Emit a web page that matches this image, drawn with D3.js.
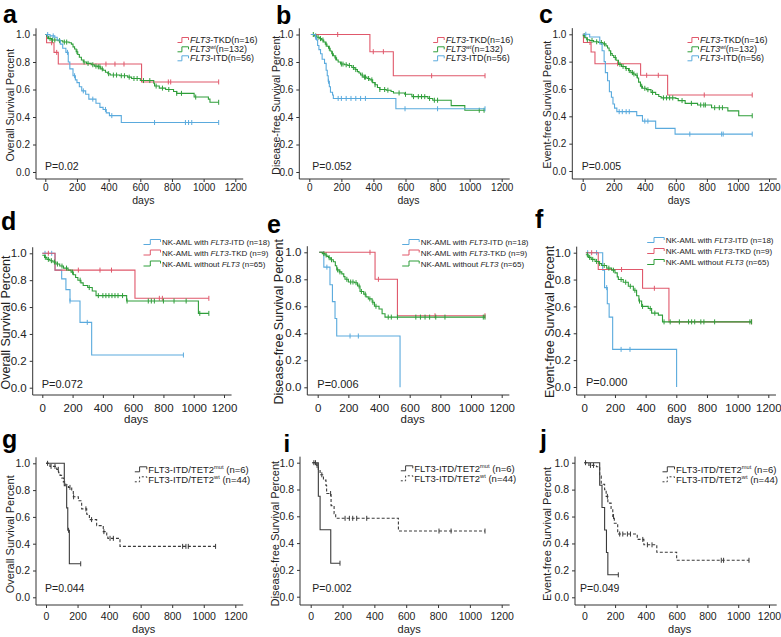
<!DOCTYPE html>
<html><head><meta charset="utf-8">
<script src="https://cdn.jsdelivr.net/npm/d3@7"></script>
<style>body{margin:0;background:#fff}svg{display:block;font-family:"Liberation Sans",Arial,sans-serif}</style>
</head><body><svg id="c" width="781" height="637"></svg>
<script>
// ---------- tick labels ----------
const xTicks = [0, 200, 400, 600, 800, 1000, 1200];
const yTicks = [0, 0.2, 0.4, 0.6, 0.8, 1.0];
const yTitles = ["Overall Survival Percent", "Disease-free Survival Percent", "Event-free Survival Percent"];
const pValues = ["P=0.02", "P=0.052", "P=0.005", "P=0.072", "P=0.006", "P=0.000", "P=0.044", "P=0.002", "P=0.049"];

// ---------- panel a (OS, FLT3 groups) ----------
const aTKD = [[0,1],[8,0.94],[55,0.87],[82,0.785],[608,0.655],[1095,0.655]];
const aTKDc = [40,72,383,440,497,777,792,1095];
const aWT = [[0,1],[10,0.985],[20,0.97],[40,0.96],[80,0.955],[110,0.945],[150,0.94],[165,0.93],[175,0.91],[185,0.895],[195,0.875],[205,0.855],[215,0.835],[228,0.815],[240,0.8],[260,0.79],[290,0.78],[310,0.77],[330,0.765],[350,0.75],[365,0.74],[380,0.725],[395,0.715],[410,0.705],[470,0.7],[520,0.69],[545,0.68],[600,0.665],[685,0.645],[690,0.625],[720,0.61],[760,0.6],[810,0.585],[830,0.572],[940,0.545],[1030,0.53],[1040,0.507],[1095,0.507]];
const aWTc = [15,30,45,60,90,120,135,200,245,270,300,320,335,345,360,400,430,450,480,500,530,560,580,620,660,700,740,780,830,860,950,1095];
const aITD = [[0,1],[30,0.99],[60,0.98],[75,0.96],[95,0.93],[110,0.9],[130,0.87],[145,0.8],[155,0.75],[175,0.7],[190,0.67],[200,0.65],[215,0.62],[230,0.59],[255,0.565],[275,0.53],[320,0.5],[345,0.47],[365,0.455],[385,0.43],[405,0.41],[480,0.36],[1095,0.36]];
const aITDc = [15,50,140,185,240,300,380,420,690,885,905,925,1095];

// ---------- panel b (DFS, FLT3 groups) ----------
const bTKD = [[10,1],[378,0.875],[524,0.7],[1096,0.7]];
const bTKDc = [177,399,462,763,1096];
const bWT = [[10,1],[30,0.99],[46,0.98],[65,0.97],[77,0.96],[90,0.945],[100,0.93],[110,0.915],[120,0.9],[130,0.88],[140,0.86],[150,0.845],[160,0.83],[170,0.815],[180,0.8],[195,0.785],[220,0.78],[240,0.775],[265,0.76],[285,0.745],[300,0.73],[310,0.72],[320,0.705],[335,0.69],[360,0.68],[378,0.67],[395,0.65],[410,0.635],[425,0.615],[440,0.6],[480,0.595],[510,0.585],[525,0.575],[595,0.565],[640,0.548],[740,0.535],[770,0.522],[885,0.483],[970,0.449],[1096,0.449]];
const bWTc = [25,40,55,70,85,105,125,145,165,200,210,230,250,275,290,330,345,350,370,390,410,440,470,490,560,600,650,680,700,720,750,780,800,1060,1090];
const bITD = [[10,1],[38,0.98],[45,0.96],[52,0.92],[60,0.89],[70,0.86],[80,0.82],[95,0.79],[105,0.74],[112,0.7],[118,0.66],[125,0.62],[132,0.58],[145,0.56],[150,0.535],[540,0.46],[1096,0.46]];
const bITDc = [40,120,180,200,230,260,290,320,350,597,800,1096];

// ---------- panel c (EFS, FLT3 groups) ----------
const cTKD = [[0,1],[5,0.94],[54,0.87],[79,0.785],[373,0.7],[547,0.556],[1092,0.556]];
const cTKDc = [47,225,412,487,783,1092];
const cWT = [[0,0.99],[15,0.975],[26,0.96],[45,0.955],[70,0.945],[101,0.94],[130,0.93],[150,0.915],[160,0.9],[170,0.88],[180,0.86],[190,0.845],[200,0.83],[215,0.81],[230,0.78],[250,0.765],[275,0.75],[295,0.735],[310,0.72],[325,0.71],[340,0.7],[352,0.68],[360,0.65],[372,0.62],[385,0.605],[410,0.595],[440,0.575],[470,0.56],[490,0.545],[505,0.535],[600,0.53],[615,0.515],[660,0.495],[740,0.483],[830,0.463],[935,0.44],[1005,0.404],[1092,0.404]];
const cWTc = [10,30,60,90,120,140,180,210,240,260,280,300,320,330,350,380,400,420,450,520,540,560,580,640,700,760,780,790,850,880,900,1092];
const cITD = [[0,1],[45,0.98],[110,0.93],[125,0.88],[138,0.8],[146,0.72],[160,0.66],[172,0.58],[185,0.54],[195,0.49],[205,0.46],[220,0.434],[348,0.405],[385,0.365],[470,0.312],[595,0.27],[1092,0.27]];
const cITDc = [20,235,255,280,300,400,420,690,895,905,1092];

// ---------- panel d (OS, NK-AML) ----------
const dITD = [[0,1],[84,0.875],[128,0.81],[156,0.73],[183,0.645],[249,0.486],[326,0.243],[932,0.243]];
const dITDc = [18,62,183,297,932];
const dTKD = [[0,1],[84,0.875],[612,0.665],[1100,0.665]];
const dTKDc = [40,238,381,457,773,793,1100];
const dWT = [[0,0.985],[15,0.97],[30,0.955],[50,0.945],[70,0.935],[90,0.92],[115,0.905],[140,0.89],[170,0.875],[190,0.86],[205,0.84],[220,0.82],[235,0.8],[255,0.78],[270,0.76],[300,0.745],[330,0.72],[355,0.685],[557,0.645],[1031,0.553],[1100,0.553]];
const dWTc = [20,40,60,80,100,130,160,200,250,310,370,400,420,440,460,480,500,530,560,700,720,740,800,870,950,1040,1100];

// ---------- panel e (DFS, NK-AML) ----------
const eITD = [[10,1],[40,0.89],[80,0.76],[96,0.635],[113,0.51],[124,0.38],[537,0]];
const eITDc = [60,211,265];
const eTKD = [[10,1],[374,0.8],[520,0.53],[1091,0.53]];
const eTKDc = [341,396,765,1091];
const eWT = [[10,1],[30,0.99],[48,0.98],[60,0.97],[70,0.96],[85,0.945],[102,0.93],[115,0.9],[124,0.87],[140,0.855],[157,0.84],[170,0.82],[178,0.8],[200,0.78],[240,0.775],[260,0.75],[276,0.71],[300,0.69],[315,0.67],[330,0.655],[355,0.63],[370,0.6],[400,0.58],[420,0.545],[439,0.52],[1091,0.52]];
const eWTc = [40,55,75,90,130,145,190,215,230,250,270,285,310,340,360,380,460,480,520,640,670,700,730,770,830,1080,1091];

// ---------- panel f (EFS, NK-AML) ----------
const fITD = [[10,1],[120,0.87],[132,0.74],[150,0.62],[162,0.52],[185,0.28],[602,0]];
const fITDc = [22,80,146,240,298];
const fTKD = [[10,1],[91,0.875],[380,0.735],[552,0.485],[1091,0.485]];
const fTKDc = [48,243,457,1091];
const fWT = [[10,0.985],[26,0.965],[45,0.95],[70,0.935],[95,0.92],[113,0.905],[146,0.885],[178,0.87],[200,0.85],[215,0.82],[222,0.8],[254,0.78],[287,0.75],[320,0.72],[341,0.68],[356,0.64],[374,0.6],[417,0.585],[439,0.55],[483,0.535],[510,0.485],[1091,0.485]];
const fWTc = [20,35,55,80,100,130,160,190,240,270,300,330,360,380,430,460,520,560,620,680,700,720,760,780,850,1080,1091];

// ---------- panel g (OS, FLT3-ITD/TET2) ----------
const gMUT = [[0,1],[116,0.833],[131,0.667],[138,0.5],[148,0.25],[220,0.25]];
const gMUTc = [143,220];
const gWT = [[0,1],[25,0.977],[68,0.955],[80,0.93],[89,0.91],[99,0.89],[110,0.86],[125,0.84],[142,0.82],[163,0.795],[173,0.75],[205,0.72],[226,0.66],[258,0.62],[275,0.58],[321,0.535],[363,0.49],[385,0.46],[392,0.44],[469,0.38],[1075,0.38]];
const gWTc = [10,32,57,78,152,175,253,289,367,406,427,866,887,902,1075];

// ---------- panel i (DFS, FLT3-ITD/TET2) ----------
const iMUT = [[10,1],[48,0.75],[59,0.5],[126,0.25],[184,0.25]];
const iMUTc = [184];
const iWT = [[10,1],[38,0.98],[48,0.95],[59,0.91],[80,0.87],[96,0.83],[100,0.77],[128,0.68],[147,0.62],[157,0.585],[551,0.49],[1095,0.49]];
const iWTc = [20,30,40,70,125,216,243,264,289,352,806,882,1095];

// ---------- panel j (EFS, FLT3-ITD/TET2) ----------
const jMUT = [[0,1],[100,0.833],[115,0.667],[132,0.5],[144,0.333],[153,0.167],[221,0.167]];
const jMUTc = [221];
const jWT = [[0,1],[30,0.98],[79,0.97],[100,0.9],[110,0.84],[132,0.8],[142,0.75],[153,0.7],[174,0.66],[185,0.6],[195,0.55],[217,0.47],[344,0.43],[387,0.39],[471,0.335],[600,0.275],[1070,0.275]];
const jWTc = [8,40,60,150,190,230,250,280,300,380,410,440,890,905,1070];

// ---------- legends ----------
const legFLT3 = [
  [{t:"FLT3",i:1},{t:"-TKD(n=16)"}],
  [{t:"FLT3",i:1},{t:"wt",i:1,s:1},{t:"(n=132)"}],
  [{t:"FLT3",i:1},{t:"-ITD(n=56)"}]
];
const legNK = [
  [{t:"NK-AML with "},{t:"FLT3",i:1},{t:"-ITD (n=18)"}],
  [{t:"NK-AML with "},{t:"FLT3",i:1},{t:"-TKD (n=9)"}],
  [{t:"NK-AML without "},{t:"FLT3",i:1},{t:" (n=65)"}]
];
const legTET = [
  [{t:"FLT3-ITD/TET2"},{t:"mut",s:1},{t:" (n=6)"}],
  [{t:"FLT3-ITD/TET2"},{t:"wt",s:1},{t:" (n=44)"}]
];

// ---------- styling / layout ----------
const RED = "#e0586b", GREEN = "#2f9e3a", BLUE = "#5aaadd", GRAY = "#3a3a3a";
const rows = [
  {tick:10, ylab:10.5, days:10.5, p:10.5, leg:9, tickY:187, daysY:200, legSw:11, sup:2},
  {tick:11.5, ylab:12.5, days:11.5, p:11, leg:8, tickY:408, daysY:419, legSw:17, sup:2},
  {tick:10.5, ylab:11, days:11, p:10.5, leg:9.5, tickY:615.7, daysY:628.5, legSw:12, sup:2.5}
];
const panels = [
  {L:"a", row:0, lx:3, ly:23, x0:45.3, x1:235.3, yT:34.5, yB:172, ax:36, ay:179, yt:0, ylx:10, px:45, py:166,
   ser:[[aTKD,aTKDc,RED],[aWT,aWTc,GREEN],[aITD,aITDc,BLUE]], leg:legFLT3, legC:[RED,GREEN,BLUE], lgx:190, lgy:[40,49.3,58.3]},
  {L:"b", row:0, lx:276, ly:23.5, x0:309.3, x1:501.7, yT:34.5, yB:172, ax:299.3, ay:179, yt:1, ylx:275.7, px:312.3, py:166,
   ser:[[bTKD,bTKDc,RED],[bWT,bWTc,GREEN],[bITD,bITDc,BLUE]], leg:legFLT3, legC:[RED,GREEN,BLUE], lgx:445.7, lgy:[40,49.3,58.3]},
  {L:"c", row:0, lx:539, ly:23, x0:582.7, x1:769, yT:34.3, yB:171, ax:572.3, ay:179, yt:2, ylx:546.7, px:581.7, py:166,
   ser:[[cTKD,cTKDc,RED],[cWT,cWTc,GREEN],[cITD,cITDc,BLUE]], leg:legFLT3, legC:[RED,GREEN,BLUE], lgx:700, lgy:[40,49.3,58.3]},
  {L:"d", row:1, lx:1, ly:230, x0:42.3, x1:224, yT:253.3, yB:387.7, ax:32.7, ay:395, yt:0, ylx:6, px:41.7, py:384,
   ser:[[dITD,dITDc,BLUE],[dTKD,dTKDc,RED],[dWT,dWTc,GREEN]], leg:legNK, legC:[BLUE,RED,GREEN], lgx:162, lgy:[242,252.5,263.5]},
  {L:"e", row:1, lx:267, ly:233, x0:317.7, x1:501.7, yT:252.3, yB:387.3, ax:307.3, ay:395, yt:1, ylx:279, px:317.3, py:384,
   ser:[[eITD,eITDc,BLUE],[eTKD,eTKDc,RED],[eWT,eWTc,GREEN]], leg:legNK, legC:[BLUE,RED,GREEN], lgx:420.7, lgy:[242,252.5,263.5]},
  {L:"f", row:1, lx:535, ly:228, x0:584.3, x1:768.3, yT:252.7, yB:387, ax:576.7, ay:395, yt:2, ylx:550, px:586, py:382.3,
   ser:[[fITD,fITDc,BLUE],[fTKD,fTKDc,RED],[fWT,fWTc,GREEN]], leg:legNK, legC:[BLUE,RED,GREEN], lgx:665.7, lgy:[240,251,262]},
  {L:"g", row:2, lx:2, ly:448, x0:46, x1:235.3, yT:463.3, yB:597.3, ax:36, ay:605, yt:0, ylx:10, px:45, py:588.3,
   ser:[[gMUT,gMUTc,GRAY,0],[gWT,gWTc,GRAY,1]], leg:legTET, legC:[GRAY,GRAY], lgx:148.3, lgy:[469.3,479.3]},
  {L:"i", row:2, lx:283.5, ly:451.5, x0:310.7, x1:501.7, yT:462.7, yB:596.7, ax:300, ay:605, yt:1, ylx:275, px:312.3, py:588.3,
   ser:[[iMUT,iMUTc,GRAY,0],[iWT,iWTc,GRAY,1]], leg:legTET, legC:[GRAY,GRAY], lgx:414.3, lgy:[468.3,478.3]},
  {L:"j", row:2, lx:540, ly:448, x0:584.3, x1:769, yT:462.7, yB:597.3, ax:575, ay:605, yt:2, ylx:546.7, px:580, py:588.3,
   ser:[[jMUT,jMUTc,GRAY,0],[jWT,jWTc,GRAY,1]], leg:legTET, legC:[GRAY,GRAY], lgx:676, lgy:[469.3,479.3]}
];

const svg = d3.select("#c");
const AX = "#333";
const bis = d3.bisector(d => d[0]).right;

panels.forEach((P, pi) => {
  const R = rows[P.row];
  const x = d3.scaleLinear().domain([0, 1200]).range([P.x0, P.x1]);
  const y = d3.scaleLinear().domain([0, 1]).range([P.yB, P.yT]);
  const g = svg.append("g");

  // panel letter
  g.append("text").attr("x", P.lx).attr("y", P.ly).text(P.L)
    .attr("font-size", P.L === "i" ? 24 : 25).attr("font-weight", 900).attr("fill", "#000");

  // axis lines
  g.append("path").attr("fill", "none").attr("stroke", AX).attr("stroke-width", 1)
    .attr("d", `M${P.ax},${y(1.045)}V${P.ay}H${x(1250)}`);

  // y axis ticks
  const ya = g.append("g").attr("transform", `translate(${P.ax},0)`)
    .call(d3.axisLeft(y).tickValues(yTicks).tickFormat(d3.format(".1f")).tickSize(3).tickPadding(3));
  ya.select(".domain").remove();
  ya.selectAll("line").attr("stroke", AX);
  ya.selectAll("text").attr("font-size", R.tick).attr("fill", "#222").attr("font-family", "Liberation Sans, Arial, sans-serif");

  // x axis ticks
  const xa = g.append("g").attr("transform", `translate(0,${P.ay})`)
    .call(d3.axisBottom(x).tickValues(xTicks).tickFormat(d3.format("d")).tickSize(3).tickPadding(2));
  xa.select(".domain").remove();
  xa.selectAll("line").attr("stroke", AX);
  xa.selectAll("text").attr("font-size", R.tick).attr("fill", "#222").attr("font-family", "Liberation Sans, Arial, sans-serif")
    .attr("y", null).attr("dy", null).attr("dominant-baseline", "central")
    .attr("transform", `translate(0,${R.tickY - P.ay})`);

  // axis titles
  g.append("text").attr("x", (P.x0 + P.x1) / 2 + 3).attr("y", R.daysY).attr("text-anchor", "middle")
    .attr("dominant-baseline", "central").attr("font-size", R.days).attr("fill", "#222").text("days");
  g.append("text").attr("transform", `translate(${P.ylx},${(P.yT + P.yB) / 2 + (P.row === 2 ? 4 : 2)}) rotate(-90)`)
    .attr("text-anchor", "middle").attr("dominant-baseline", "central")
    .attr("font-size", R.ylab).attr("fill", "#222").text(yTitles[P.yt]);

  // p value
  g.append("text").attr("x", P.px).attr("y", P.py).attr("dominant-baseline", "central")
    .attr("font-size", R.p).attr("fill", "#222").text(pValues[pi]);

  // curves
  const line = d3.line().x(d => x(d[0])).y(d => y(d[1])).curve(d3.curveStepAfter);
  P.ser.forEach(([steps, cens, col, dash]) => {
    g.append("path").datum(steps).attr("d", line).attr("fill", "none")
      .attr("stroke", col).attr("stroke-width", 1.1)
      .attr("stroke-dasharray", dash ? "3,2" : null);
    g.selectAll(null).data(cens).enter().append("line")
      .attr("x1", c => x(c)).attr("x2", c => x(c))
      .attr("y1", c => y(steps[Math.max(0, bis(steps, c) - 1)][1]) - 2.5)
      .attr("y2", c => y(steps[Math.max(0, bis(steps, c) - 1)][1]) + 2.5)
      .attr("stroke", col).attr("stroke-width", 1);
  });

  // legend
  P.leg.forEach((parts, k) => {
    const ly = P.lgy[k], sw = R.legSw, sx = P.lgx - sw - 1.5;
    const dash = P.row === 2 && k === 1;
    g.append("path").attr("fill", "none").attr("stroke", P.legC[k]).attr("stroke-width", 1)
      .attr("stroke-dasharray", dash ? "2,2" : null)
      .attr("d", `M${sx},${ly + 2.5}H${sx + sw * 0.4}V${ly - 2.5}H${sx + sw}V${ly}`);
    const t = g.append("text").attr("x", P.lgx).attr("y", ly).attr("dominant-baseline", "central")
      .attr("font-size", R.leg).attr("fill", "#222");
    parts.forEach(pt => {
      const ts = t.append("tspan").text(pt.t);
      if (pt.i) ts.attr("font-style", "italic");
      if (pt.s) ts.attr("font-size", R.leg * 0.6).attr("baseline-shift", R.sup + "px");
    });
  });
});
</script>
</body></html>
